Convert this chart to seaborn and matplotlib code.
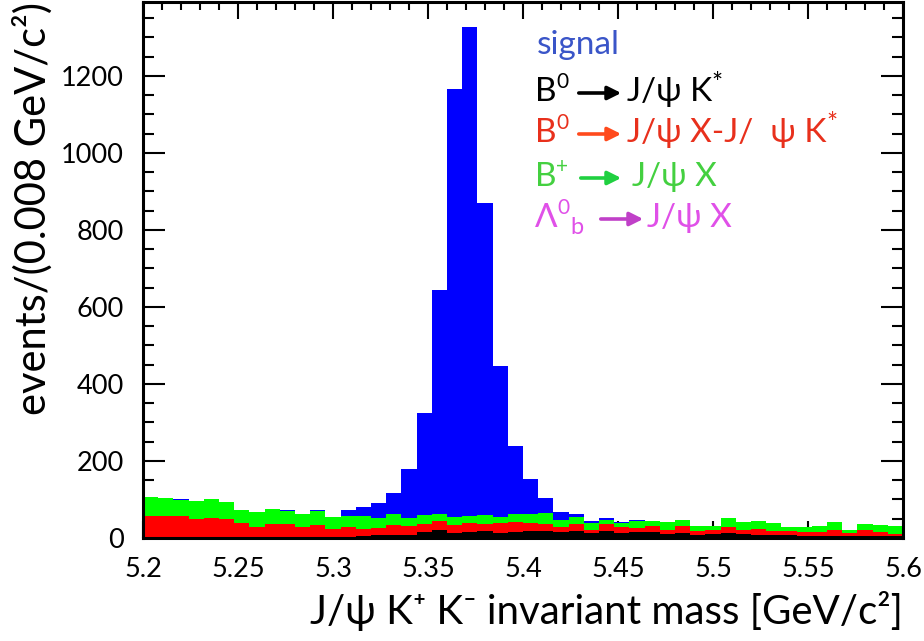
import numpy as np
import pandas as pd
import matplotlib
matplotlib.use("Agg")
import matplotlib.pyplot as plt
import seaborn as sns
from matplotlib.ticker import FixedLocator, MultipleLocator

sns.set_theme(style="ticks")
plt.rcParams['font.family'] = ['Lato', 'DejaVu Sans']

# ---------------- data (events per 0.008 GeV/c^2 bin, 5.2 - 5.6) ----------------
mass_lo, mass_hi, bin_w = 5.2, 5.6, 0.008

signal = [0, 1, 1, 1, 1, 1, 1, 1, 1, 1,
          1, 2, 1, 14, 23, 39, 56, 125, 263, 582,
          1112, 1271, 810, 391, 176, 89, 41, 21, 9, 6,
          5, 2, 2, 1, 1, 0, 0, 0, 0, 0,
          0, 0, 0, 0, 0, 0, 0, 0, 0, 0]
bplus = [48, 46, 43, 47, 49, 43, 32, 39, 39, 35,
         34, 36, 31, 30, 34, 27, 29, 23, 24, 18,
         22, 19, 22, 17, 22, 24, 27, 18, 18, 18,
         11, 12, 18, 13, 19, 16, 13, 10, 24, 21,
         21, 21, 10, 12, 15, 22, 8, 15, 19, 20]
b0_other = [56, 55, 54, 47, 50, 48, 38, 26, 34, 34,
            26, 32, 21, 26, 20, 19, 24, 22, 21, 23,
            20, 22, 19, 25, 25, 21, 20, 14, 18, 8,
            19, 16, 11, 15, 12, 20, 10, 11, 16, 11,
            15, 11, 10, 10, 10, 14, 7, 15, 10, 5]
b0_jpsikstar = [1, 1, 1, 1, 1, 1, 1, 1, 1, 1,
                1, 1, 1, 1, 3, 6, 8, 7, 15, 20,
                12, 15, 17, 12, 15, 17, 16, 14, 17, 12,
                16, 11, 14, 14, 9, 11, 7, 9, 11, 9,
                7, 6, 7, 5, 5, 5, 4, 5, 5, 4]
lambdab = [1, 1, 1, 1, 1, 1, 1, 1, 1, 1,
           1, 1, 1, 1, 1, 1, 1, 1, 1, 1,
           1, 1, 1, 1, 1, 1, 1, 1, 1, 1,
           1, 1, 1, 1, 1, 1, 1, 1, 1, 1,
           1, 1, 1, 1, 1, 1, 1, 1, 1, 1]

xtick_vals = [5.2, 5.25, 5.3, 5.35, 5.4, 5.45, 5.5, 5.55, 5.6]
xtick_labels = ["5.2", "5.25", "5.3", "5.35", "5.4", "5.45", "5.5", "5.55", "5.6"]
ytick_vals = [0, 200, 400, 600, 800, 1000, 1200]

# ---------------- build table ----------------
n_bins = int(round((mass_hi - mass_lo) / bin_w))
edges = [round(float(e), 4) for e in np.linspace(mass_lo, mass_hi, n_bins + 1)]
centers = [(edges[i] + edges[i + 1]) / 2 for i in range(n_bins)]
components = {
    "signal": signal,
    "B+": bplus,
    "B0 other": b0_other,
    "B0 K*": b0_jpsikstar,
    "Lambda_b": lambdab,
}
df = pd.concat([pd.DataFrame({"mass": centers, "events": vals, "comp": name})
                for name, vals in components.items()], ignore_index=True)
palette = {"signal": "#0000ff", "B+": "#00ff00", "B0 other": "#ff0000",
           "B0 K*": "#000000", "Lambda_b": "#ff00ff"}

W, H = 924, 641
fig = plt.figure(figsize=(W / 100, H / 100), dpi=100)
ax = fig.add_axes([143 / W, 1 - 538 / H, (903 - 143) / W, (538 - 2) / H])

sns.histplot(data=df, x="mass", weights="events", hue="comp",
             hue_order=["signal", "B+", "B0 other", "B0 K*", "Lambda_b"],
             multiple="stack", bins=edges, element="step", fill=True,
             palette=palette, alpha=1, linewidth=0, legend=False, ax=ax)

ax.set_xlim(mass_lo, mass_hi)
ax.set_ylim(0, 1392)
ax.xaxis.set_major_locator(FixedLocator(xtick_vals))
ax.set_xticklabels(xtick_labels)
ax.xaxis.set_minor_locator(MultipleLocator(0.01))
ax.yaxis.set_major_locator(FixedLocator(ytick_vals))
ax.set_yticklabels([str(v) for v in ytick_vals])
ax.yaxis.set_minor_locator(MultipleLocator(50))

ax.tick_params(which='both', direction='in', top=True, right=True, width=1.5,
               color='black', labelcolor='black', labelsize=19.5)
ax.tick_params(axis='y', which='major', length=16, pad=14)
ax.tick_params(axis='y', which='minor', length=8)
ax.tick_params(axis='x', which='major', length=12, pad=14)
ax.tick_params(axis='x', which='minor', length=6)
for s in ax.spines.values():
    s.set_linewidth(2.2)
    s.set_color('black')

ax.set_xlabel("J/ψ K⁺ K⁻ invariant mass [GeV/c²]", fontsize=29, loc='right', labelpad=6, color='black')
ax.set_ylabel("events/(0.008 GeV/c²)", fontsize=30, loc='top', labelpad=6, color='black')


def fx(px):
    return px / W


def fy(py):
    return 1 - py / H


fs = 24
fss = 15
fam = ['Lato', 'DejaVu Sans']


def put(x, y, s, c, size=fs):
    fig.text(fx(x), fy(y), s, color=c, fontsize=size, va='center', ha='left', family=fam)


def arrow(x0, x1, y, c):
    ax.annotate("", xy=(fx(x1), fy(y)), xytext=(fx(x0), fy(y)),
                xycoords='figure fraction', textcoords='figure fraction',
                arrowprops=dict(arrowstyle='-|>', color=c, lw=2.6, mutation_scale=20))


put(537, 45, "signal", "#3a55c8")

# B0 -> J/psi K*
put(535, 92, "B", "#000000")
put(556, 82, "0", "#000000", fss)
arrow(576, 624, 93, "#000000")
put(627, 92, "J/ψ K", "#000000")
put(711, 84, "*", "#000000", 19)

# B0 -> J/psi X - J/psi K*
rc = "#e8301c"
put(535, 133, "B", rc)
put(556, 123, "0", rc, fss)
arrow(576, 624, 134, "#ff4a1c")
put(627, 133, "J/ψ X-J/  ψ K", rc)
put(826, 125, "*", rc, 19)

# B+ -> J/psi X
gc = "#44d040"
put(535, 177, "B", gc)
put(556, 167, "+", gc, fss)
arrow(578, 624, 178, "#20d040")
put(632, 177, "J/ψ X", gc)

# Lambda_b -> J/psi X
mc = "#e050e8"
put(535, 218, "Λ", mc)
put(557, 208, "0", mc, fss)
put(570, 228, "b", mc, fss + 2)
arrow(598, 646, 219, "#c040c8")
put(647, 218, "J/ψ X", mc)

fig.savefig("out.png", dpi=100, facecolor='white')
